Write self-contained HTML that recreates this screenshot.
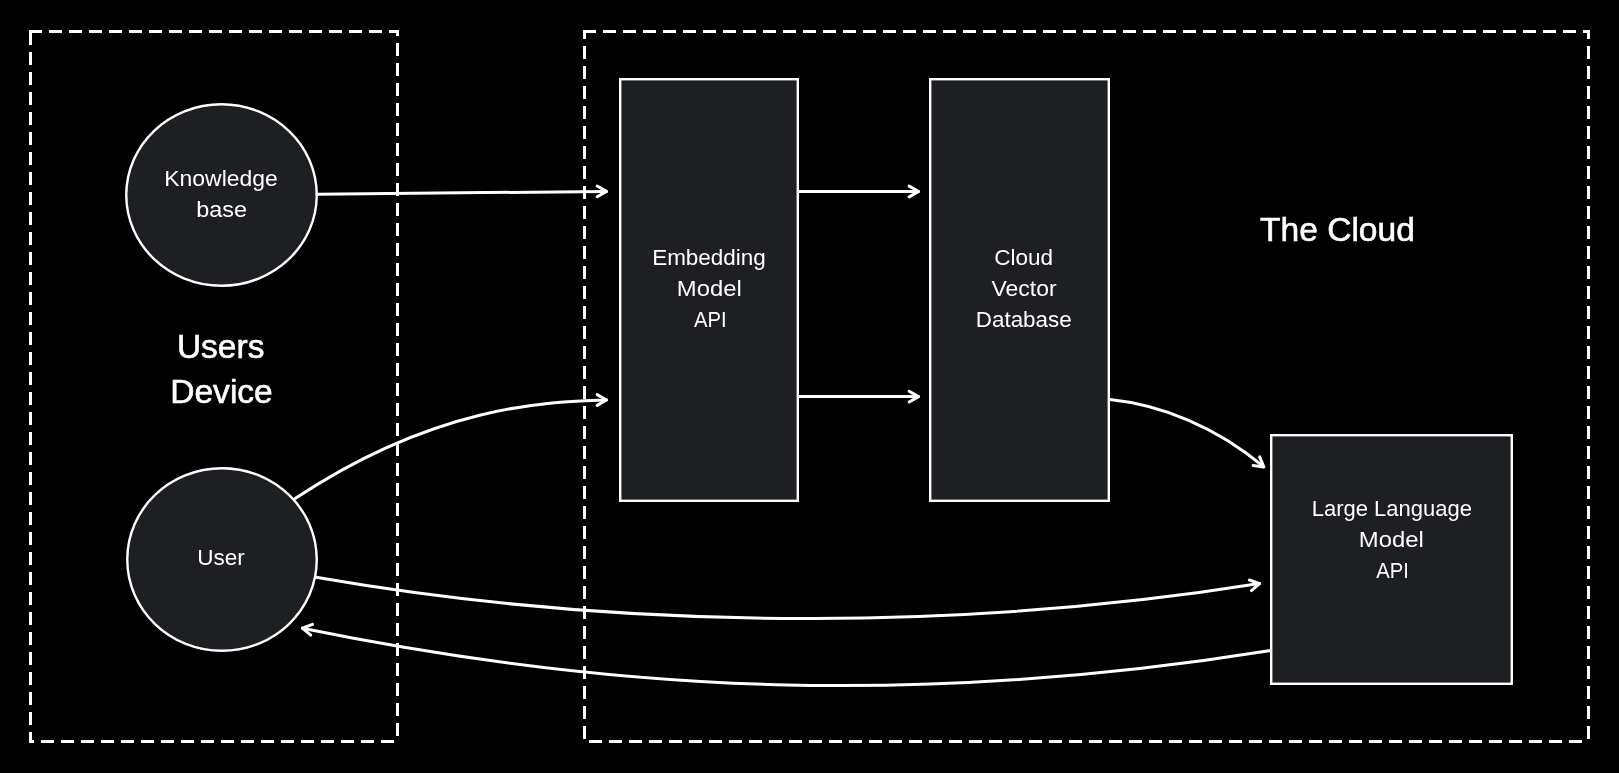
<!DOCTYPE html>
<html><head><meta charset="utf-8"><style>
html,body{margin:0;padding:0;background:#000;width:1619px;height:773px;overflow:hidden}
svg{display:block;position:absolute;left:0;top:0;will-change:transform}
text{font-family:"Liberation Sans",sans-serif}
</style></head><body>
<svg width="1619" height="773" viewBox="0 0 1619 773">
<g fill="none" stroke="#fff" stroke-width="3" stroke-dasharray="10 10" stroke-linecap="square">
<path d="M 30.5 31.5 H 397.5 V 741.5"/>
<path stroke-dashoffset="15.0" d="M 397.5 741.5 H 30.5 V 31.5"/>
<path d="M 584.5 31.5 H 1588.5 V 741.5"/>
<path stroke-dashoffset="12.0" d="M 1588.5 741.5 H 584.5 V 31.5"/>
</g>
<g fill="#1e1f22" stroke="#fff" stroke-width="2.4">
<path d="M 316.75 195.00 C 316.75 245.12 274.11 285.75 221.50 285.75 C 168.89 285.75 126.25 245.12 126.25 195.00 C 126.25 144.88 168.89 104.25 221.50 104.25 C 274.11 104.25 316.75 144.88 316.75 195.00 Z"/>
<path d="M 316.75 559.50 C 316.75 609.90 274.33 650.75 222.00 650.75 C 169.67 650.75 127.25 609.90 127.25 559.50 C 127.25 509.10 169.67 468.25 222.00 468.25 C 274.33 468.25 316.75 509.10 316.75 559.50 Z"/>
<rect x="620.2" y="79.2" width="177.6" height="421.6"/>
<rect x="930.2" y="79.2" width="178.6" height="421.6"/>
<rect x="1271.2" y="435.2" width="240.6" height="248.6"/>
</g>
<g fill="none" stroke="#fff" stroke-width="3" stroke-linecap="round" stroke-linejoin="round">
<path d="M 317 194.3 L 606.5 191.4"/>
<path d="M 597.15 186.00 L 606.50 191.40 L 597.15 196.80"/>
<path d="M 799 191.5 L 918.5 191.5"/>
<path d="M 909.15 186.10 L 918.50 191.50 L 909.15 196.90"/>
<path d="M 799 396.6 L 918.5 396.6"/>
<path d="M 909.15 391.20 L 918.50 396.60 L 909.15 402.00"/>
<path d="M 295.1 498.6 C 443.1 400.3 560.3 401.7 606.5 400.0"/>
<path d="M 597.15 394.60 L 606.50 400.00 L 597.15 405.40"/>
<path d="M 1109.9 399.5 C 1160.2 404.6 1216.7 426.7 1263.8 466.9"/>
<path d="M 1259.67 456.92 L 1263.80 466.90 L 1253.09 465.49"/>
<path d="M 316.1 577.3 C 651.3 635.6 991.4 626.6 1259.6 583.6"/>
<path d="M 1249.42 579.99 L 1259.60 583.60 L 1251.39 590.61"/>
<path d="M 1270.7 650.4 C 923.4 706.1 622.0 693.5 302.4 628.2"/>
<path d="M 310.73 635.07 L 302.40 628.20 L 312.52 624.42"/>
</g>
<g fill="#fff" font-family="Liberation Sans, sans-serif" text-anchor="middle">
<text id="t0" x="221.03" y="186.1" font-size="22" textLength="113.50" lengthAdjust="spacingAndGlyphs">Knowledge</text>
<text id="t1" x="221.55" y="217.0" font-size="22" textLength="50.79" lengthAdjust="spacingAndGlyphs">base</text>
<text id="t2" x="220.98" y="565.3" font-size="22" textLength="47.59" lengthAdjust="spacingAndGlyphs">User</text>
<text id="t3" x="708.99" y="265.1" font-size="22" textLength="113.66" lengthAdjust="spacingAndGlyphs">Embedding</text>
<text id="t4" x="709.33" y="296.1" font-size="22" textLength="64.97" lengthAdjust="spacingAndGlyphs">Model</text>
<text id="t5" x="710.40" y="327.3" font-size="22" textLength="32.65" lengthAdjust="spacingAndGlyphs">API</text>
<text id="t6" x="1023.65" y="264.9" font-size="22" textLength="58.82" lengthAdjust="spacingAndGlyphs">Cloud</text>
<text id="t7" x="1024.10" y="296.0" font-size="22" textLength="64.99" lengthAdjust="spacingAndGlyphs">Vector</text>
<text id="t8" x="1023.75" y="327.0" font-size="22" textLength="95.93" lengthAdjust="spacingAndGlyphs">Database</text>
<text id="t9" x="1391.80" y="516.2" font-size="22" textLength="160.27" lengthAdjust="spacingAndGlyphs">Large Language</text>
<text id="t10" x="1391.35" y="547.2" font-size="22" textLength="64.97" lengthAdjust="spacingAndGlyphs">Model</text>
<text id="t11" x="1392.53" y="578.0" font-size="22" textLength="32.55" lengthAdjust="spacingAndGlyphs">API</text>
<text id="t12" x="220.67" y="357.5" font-size="34" textLength="87.45" lengthAdjust="spacingAndGlyphs" stroke="#fff" stroke-width="0.6">Users</text>
<text id="t13" x="221.51" y="403.4" font-size="34" textLength="102.50" lengthAdjust="spacingAndGlyphs" stroke="#fff" stroke-width="0.6">Device</text>
<text id="t14" x="1337.44" y="240.8" font-size="34" textLength="154.95" lengthAdjust="spacingAndGlyphs" stroke="#fff" stroke-width="0.6">The Cloud</text>
</g>
</svg>
</body></html>
